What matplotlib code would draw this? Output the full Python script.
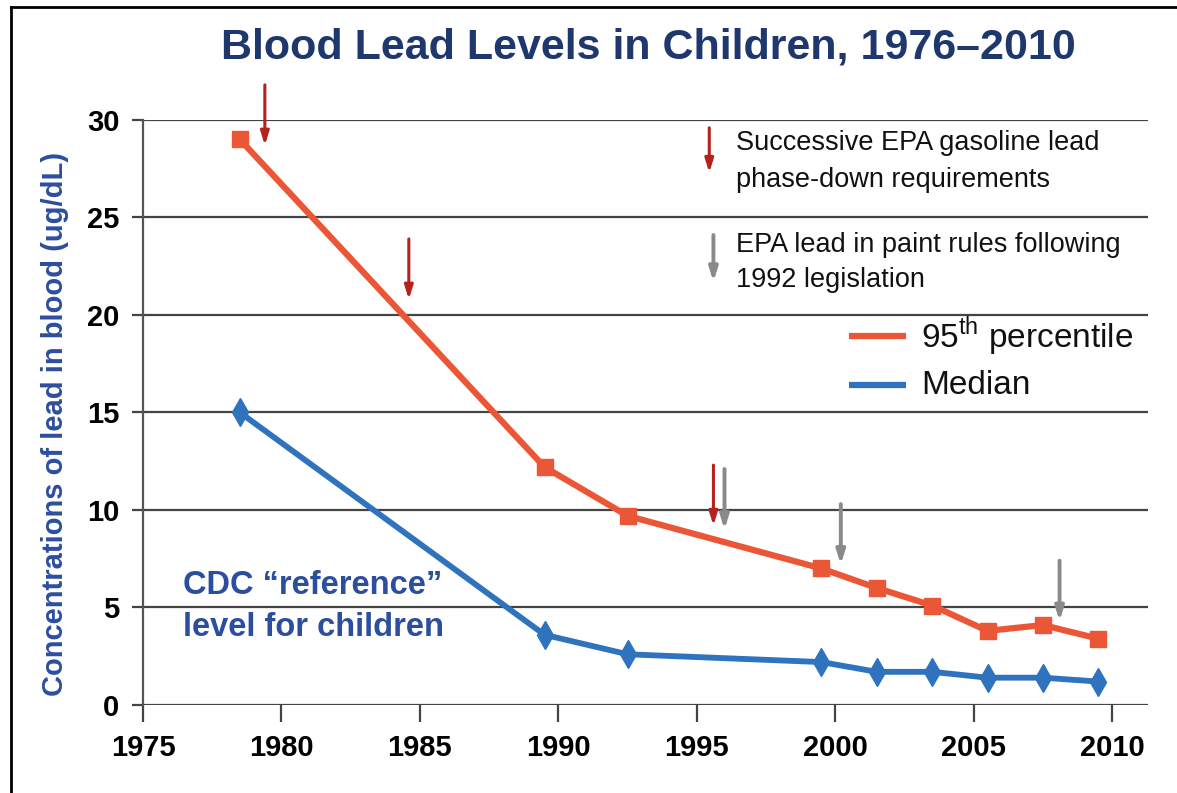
import numpy as np
import matplotlib
matplotlib.use('Agg')
import matplotlib.pyplot as plt
from matplotlib import font_manager
from matplotlib.lines import Line2D

# -------------------- Data --------------------
years = [1978.5, 1989.5, 1992.5, 1999.5, 2001.5, 2003.5, 2005.5, 2007.5, 2009.5]
p95 = [29.0, 12.2, 9.7, 7.0, 6.0, 5.1, 3.8, 4.1, 3.4]
median = [15.0, 3.6, 2.6, 2.2, 1.7, 1.7, 1.4, 1.4, 1.2]

# gasoline phase-down arrows (x, top, tip) and paint-rule arrows
gas_x = [1979.4, 1984.6, 1995.6]
gas_top = [31.8, 23.9, 12.3]
gas_tip = [28.7, 20.8, 9.2]
paint_x = [1996.0, 2000.2, 2008.1]
paint_top = [12.1, 10.3, 7.4]
paint_tip = [9.0, 7.2, 4.3]

xticks = [1975, 1980, 1985, 1990, 1995, 2000, 2005, 2010]
yticks = [0, 5, 10, 15, 20, 25, 30]

# -------------------- Colors / fonts --------------------
RED = '#ea5636'
BLUE = '#2f73be'
DARKRED = '#b5211c'
GRAY = '#8a8a8a'
NAVY = '#1e376d'
CDCBLUE = '#2c4e9e'

names = set(f.name for f in font_manager.fontManager.ttflist)
NARROW = 'Liberation Sans Narrow' if 'Liberation Sans Narrow' in names else 'Liberation Sans'
plt.rcParams['font.family'] = ['Liberation Sans', 'DejaVu Sans']

fig = plt.figure(figsize=(11.77, 7.93), dpi=100)
ax = fig.add_axes([0.1215, 0.111, 0.854, 0.7377])

ax.plot(years, p95, color=RED, lw=4.5, marker='s', markersize=11, zorder=4)
ax.plot(years, median, color=BLUE, lw=4.2, marker='d', markersize=14, zorder=4)

def arrow(x, top, tip, col, lw=2.2):
    ax.annotate('', xy=(x, tip), xytext=(x, top),
                arrowprops=dict(arrowstyle='-|>,head_width=0.25,head_length=0.8',
                                color=col, lw=lw, shrinkA=0, shrinkB=0),
                annotation_clip=False, zorder=5)

for i in range(len(gas_x)):
    arrow(gas_x[i], gas_top[i], gas_tip[i], DARKRED)
for i in range(len(paint_x)):
    arrow(paint_x[i], paint_top[i], paint_tip[i], GRAY, lw=2.8)

# ---------- key in upper right ----------
arrow(1995.45, 29.6, 27.3, DARKRED)
arrow(1995.6, 24.1, 21.7, GRAY, lw=2.8)
note_kw = dict(fontsize=19.5, family=NARROW, va='center', ha='left', color='#111111')
ax.text(1996.4, 28.8, 'Successive EPA gasoline lead', **note_kw)
ax.text(1996.4, 26.9, 'phase-down requirements', **note_kw)
ax.text(1996.4, 23.6, 'EPA lead in paint rules following', **note_kw)
ax.text(1996.4, 21.8, '1992 legislation', **note_kw)

ax.plot([2000.5, 2002.55], [18.9, 18.9], color=RED, lw=4.5, solid_capstyle='butt', clip_on=False)
ax.plot([2000.5, 2002.55], [16.4, 16.4], color=BLUE, lw=4.5, solid_capstyle='butt', clip_on=False)
ax.text(2003.1, 18.9, r'95$^{\mathregular{th}}$ percentile', fontsize=24, family=NARROW,
        va='center', ha='left', color='#111111')
ax.text(2003.1, 16.4, 'Median', fontsize=24, family=NARROW,
        va='center', ha='left', color='#111111')

ax.text(1976.45, 6.15, 'CDC \u201creference\u201d', fontsize=23.5, fontweight='bold',
        color=CDCBLUE, va='center', ha='left')
ax.text(1976.45, 3.95, 'level for children', fontsize=23.5, fontweight='bold',
        color=CDCBLUE, va='center', ha='left')

# ---------- axes styling ----------
ax.set_xlim(1975, 2011.3)
ax.set_ylim(0, 30)
ax.set_xticks(xticks)
ax.set_yticks(yticks)
ax.grid(axis='y', color='#444444', lw=1.6)
ax.set_axisbelow(True)
for s in ['top', 'right', 'bottom']:
    ax.spines[s].set_visible(False)
ax.spines['left'].set_color('#555555')
ax.spines['left'].set_linewidth(1.6)
ax.tick_params(axis='x', length=12, width=1.6, color='#444444', pad=9)
ax.tick_params(axis='y', length=8, width=1.6, color='#444444', pad=9)
for lab in ax.get_xticklabels() + ax.get_yticklabels():
    lab.set_fontsize(21)
    lab.set_fontweight('bold')
    lab.set_family(NARROW)

ax.set_ylabel('Concentrations of lead in blood (ug/dL)', fontsize=21, fontweight='bold',
              color=CDCBLUE, family=NARROW)
ax.yaxis.set_label_coords(-0.074, 0.48)

fig.text(0.551, 0.940, 'Blood Lead Levels in Children, 1976\u20132010', fontsize=31,
         fontweight='bold', color=NAVY, family=NARROW, ha='center', va='center')

# frame around the picture (left and top edges)
fig.add_artist(Line2D([0.0093, 0.0093], [0, 0.991], color='black', lw=2))
fig.add_artist(Line2D([0.0093, 1], [0.991, 0.991], color='black', lw=2))

fig.savefig('out.png', dpi=100)
